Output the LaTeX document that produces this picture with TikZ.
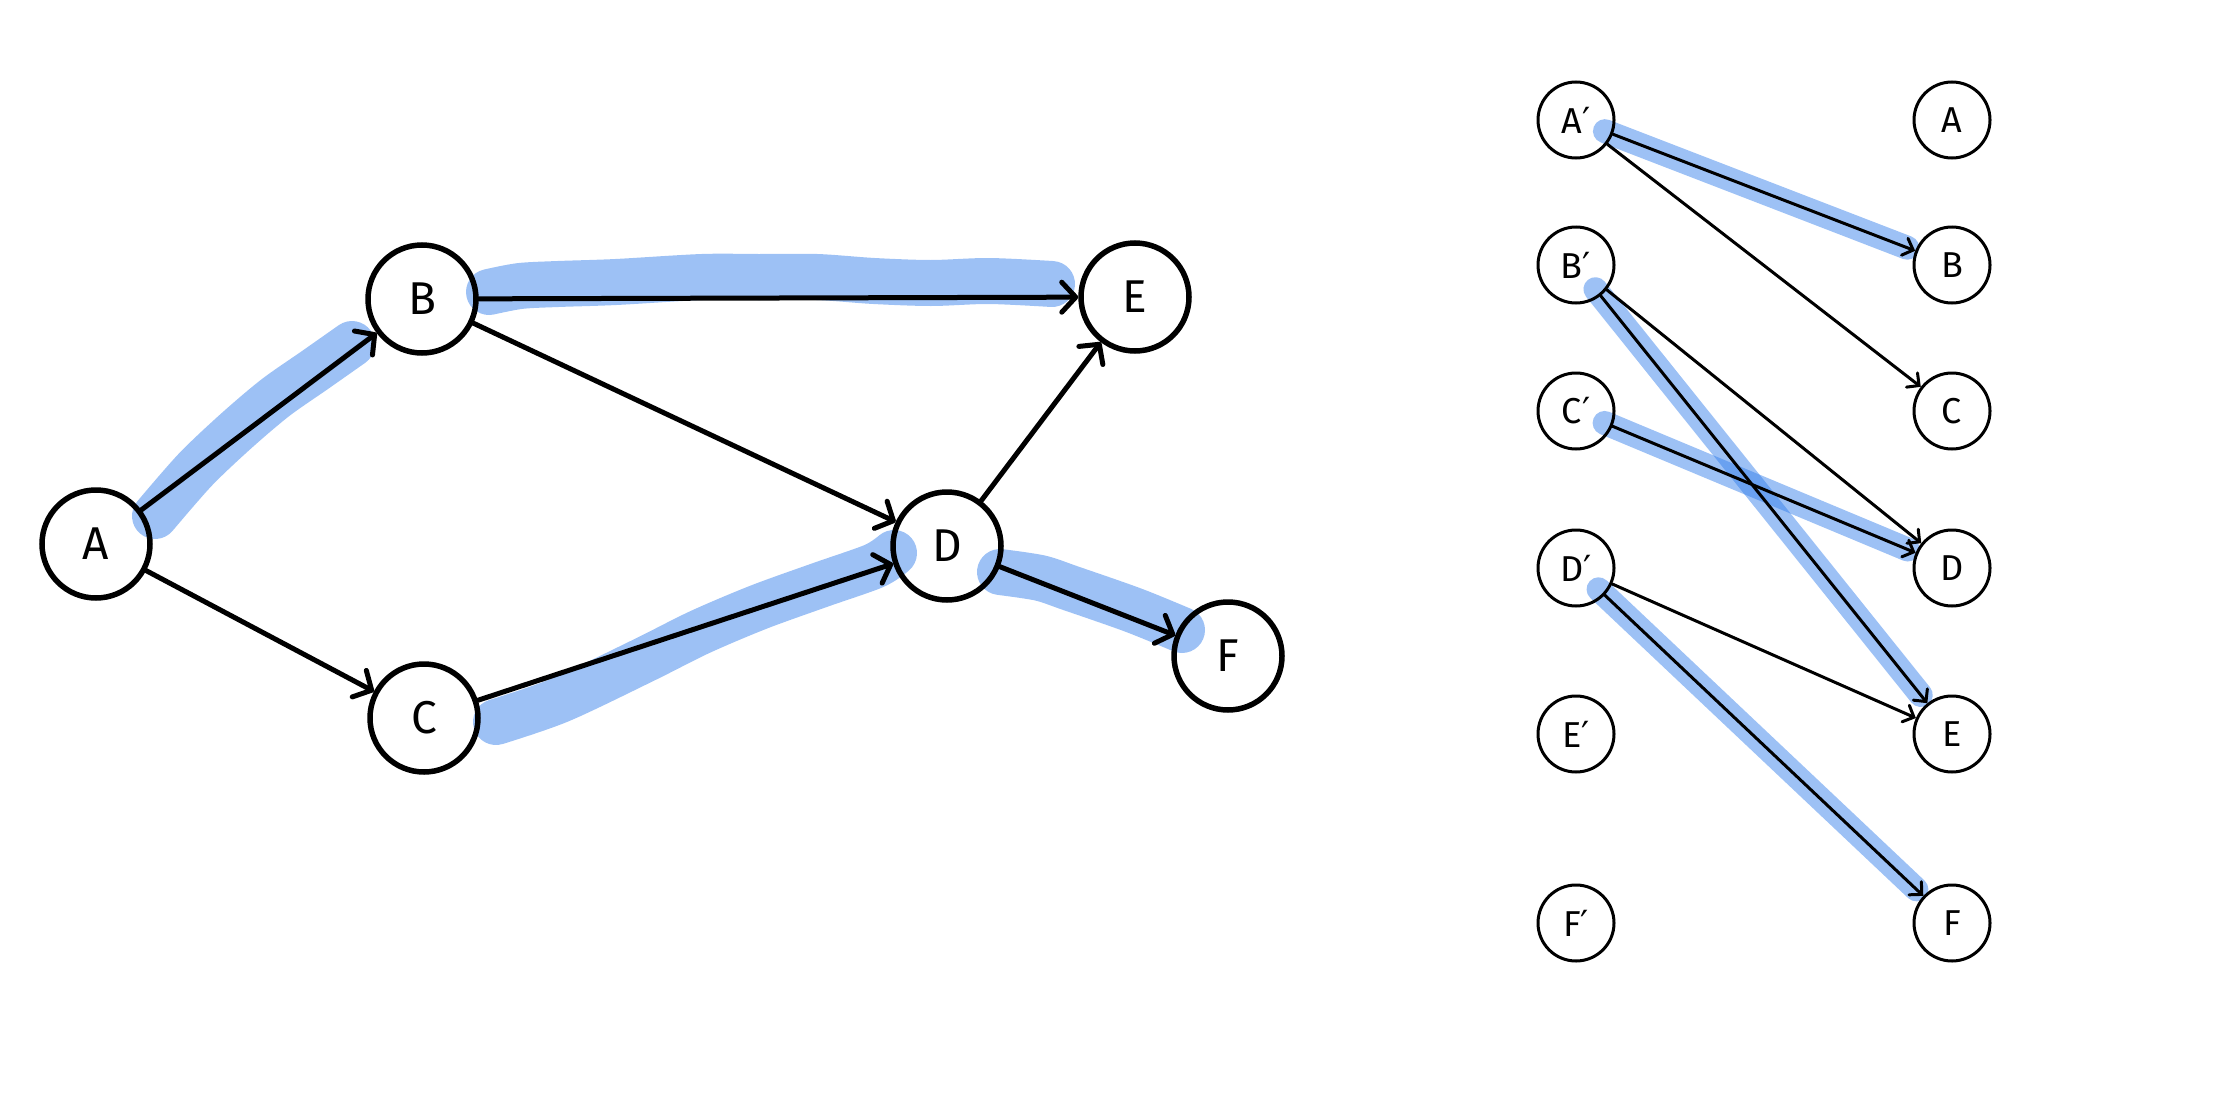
\documentclass[tikz,border=0pt]{standalone}
\usepackage{fontspec}
\setmainfont{Fira Sans}
\newfontfamily\primefont{DejaVu Sans}
\newcommand{\pr}{{\primefont ′}}
\usetikzlibrary{arrows.meta,calc,backgrounds}
\definecolor{hlblue}{RGB}{51,126,234}
\begin{document}
\begin{tikzpicture}[x=1pt,y=-1pt,
  bignode/.style={circle,draw,line width=5.5pt,minimum size=108pt,inner sep=0pt,font=\fontsize{46}{50}\selectfont},
  smallnode/.style={circle,draw,line width=3pt,minimum size=76pt,inner sep=0pt,font=\fontsize{36}{40}\selectfont},
  bigedge/.style={line width=5pt,line cap=round,-{Straight Barb[length=14pt,width=30pt,line cap=round,line join=round]}},
  smalledge/.style={line width=3pt,line cap=round,-{Straight Barb[length=9pt,width=18pt,line cap=round]}},
  bigband/.style={draw=hlblue,draw opacity=0.48,line width=46pt,line cap=round,line join=round},
  smallband/.style={draw=hlblue,draw opacity=0.48,line width=24pt,line cap=round}
]
\useasboundingbox (0,0) rectangle (2227,1116);

% left graph
\node[bignode] (A) at (96,544) {A};
\node[bignode] (B) at (422,299) {B};
\node[bignode] (C) at (424,718) {C};
\node[bignode] (D) at (947,546) {D};
\node[bignode] (E) at (1135,297) {E};
\node[bignode] (F) at (1228,656) {F};

\draw[bigedge] (A) -- (B);
\draw[bigedge] (A) -- (C);
\draw[bigedge] (B) -- (E);
\draw[bigedge] (B) -- (D);
\draw[bigedge] (C) -- (D);
\draw[bigedge] (D) -- (E);
\draw[bigedge] (D) -- (F);

% right bipartite graph
\node[smallnode] (Ap) at (1576,120) {A\pr};
\node[smallnode] (Bp) at (1576,265) {B\pr};
\node[smallnode] (Cp) at (1576,411) {C\pr};
\node[smallnode] (Dp) at (1576,568) {D\pr};
\node[smallnode] (Ep) at (1576,734) {E\pr};
\node[smallnode] (Fp) at (1576,923) {F\pr};
\node[smallnode] (rA) at (1952,120) {A};
\node[smallnode] (rB) at (1952,265) {B};
\node[smallnode] (rC) at (1952,411) {C};
\node[smallnode] (rD) at (1952,568) {D};
\node[smallnode] (rE) at (1952,734) {E};
\node[smallnode] (rF) at (1952,923) {F};

\draw[smalledge] (Ap) -- (rB);
\draw[smalledge] (Ap) -- (rC);
\draw[smalledge] (Bp) -- (rD);
\draw[smalledge] (Bp) -- (rE);
\draw[smalledge] (Cp) -- (rD);
\draw[smalledge] (Dp) -- (rE);
\draw[smalledge] (Dp) -- (rF);

\begin{pgfonlayer}{background}
  \draw[bigband] plot[smooth] coordinates {(155,516) (195,470) (235,432) (275,398) (315,370) (352,344)};
  \draw[bigband] plot[smooth] coordinates {(489,292) (520,286) (558,284) (616,282) (702,277) (759,277) (817,277) (874,281) (931,283) (989,281) (1052,284)};
  \draw[bigband] plot[smooth] coordinates {(496,722) (560,700) (644,660) (700,632) (759,607) (820,585) (874,566) (894,553)};
  \draw[bigband] plot[smooth] coordinates {(1000,572) (1040,578) (1070,588) (1133,610) (1182,630)};

  \draw[smallband] ($(Ap)!31pt!(rB)$) -- ($(rB)!48pt!(Ap)$);
  \draw[smallband] ($(Bp)!31pt!(rE)$) -- ($(rE)!50pt!(Bp)$);
  \draw[smallband] ($(Cp)!31pt!(rD)$) -- ($(rD)!48pt!(Cp)$);
  \draw[smallband] ($(Dp)!31pt!(rF)$) -- ($(rF)!49pt!(Dp)$);
\end{pgfonlayer}
\end{tikzpicture}
\end{document}
